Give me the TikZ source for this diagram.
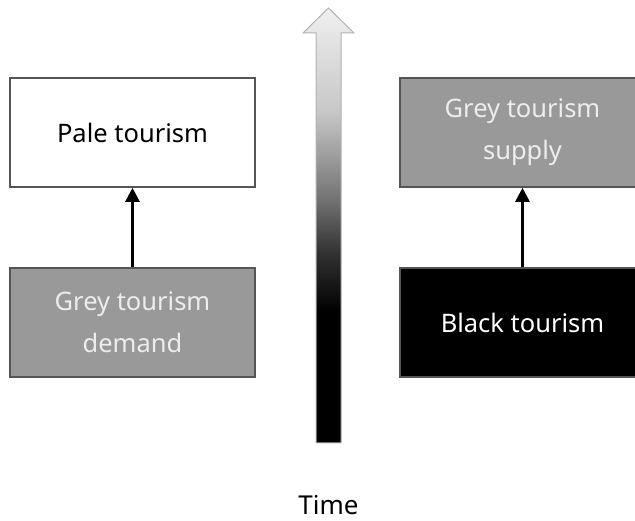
\documentclass[tikz,border=0pt]{standalone}
\usepackage{fontspec}
\setmainfont{Noto Sans}
\usetikzlibrary{arrows.meta}
\definecolor{boxgrey}{HTML}{999999}
\definecolor{edgegrey}{HTML}{555555}
\pgfdeclareverticalshading{timefade}{100bp}{color(0bp)=(black); color(40bp)=(black);
    color(47bp)=(black!80); color(53bp)=(black!55); color(63bp)=(black!22);
    color(75bp)=(white!94!black); color(100bp)=(white!94!black)}

\begin{document}
\begin{tikzpicture}[x=1pt, y=1pt,
    stage/.style={rectangle, draw=edgegrey, line width=1.6pt, minimum width=245pt,
        minimum height=109pt, align=center, font=\fontsize{25.5}{42}\selectfont},
    greystage/.style={stage, fill=boxgrey, text=white!93!black},
    link/.style={line width=2.5pt, -{Triangle[length=14pt, width=14pt]}}]
    \useasboundingbox (0,0) rectangle (635,521);
    % Left column
    \node[stage, fill=white] (pale) at (132.5,388.5) {Pale tourism};
    \node[greystage] (demand) at (132.5,198.5) {Grey tourism\\demand};
    % Right column
    \node[greystage] (supply) at (522.5,388.5) {Grey tourism\\supply};
    \node[stage, fill=black, text=white] (black) at (522.5,198.5) {Black tourism};
    % Links
    \draw[link] (demand) -- (pale);
    \draw[link] (black) -- (supply);
    % Time arrow
    \shade[shading=timefade, draw=gray!60, line width=1pt]
        (316,78) -- (316,488) -- (303,488) -- (328.5,513) -- (354,488)
        -- (341,488) -- (341,78) -- cycle;
    \node[inner sep=1pt] (time) at (328.5,16) {\fontsize{26}{30}\selectfont Time};
\end{tikzpicture}
\end{document}
